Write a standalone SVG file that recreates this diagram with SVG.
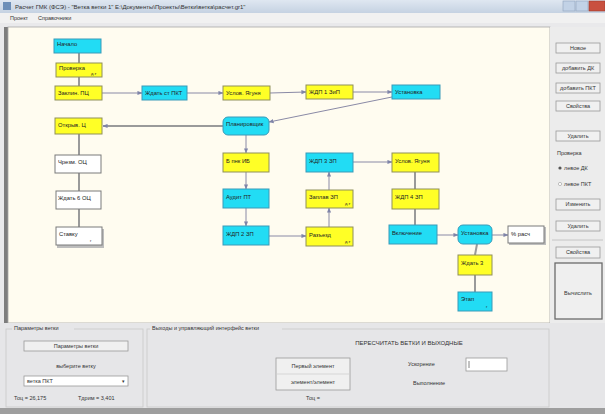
<svg xmlns="http://www.w3.org/2000/svg" width="605" height="414" viewBox="0 0 605 414">
<defs>
<linearGradient id="tb" x1="0" y1="0" x2="0" y2="1"><stop offset="0" stop-color="#dfe7f1"/><stop offset="1" stop-color="#c5d2e2"/></linearGradient>
<marker id="ar" viewBox="0 0 6 6" refX="5.5" refY="3" markerWidth="5" markerHeight="5" markerUnits="userSpaceOnUse" orient="auto"><path d="M0,0.5 L6,3 L0,5.5 z" fill="#7f84a8"/></marker>
<style>
text{font-family:"Liberation Sans",Arial,sans-serif;fill:#222}
.nt{font-size:5.8px}
.sub{font-size:4px}
.y{fill:#ffff26;stroke:#8f8f5a;stroke-width:1}
.c{fill:#22dcf4;stroke:#3a9ab8;stroke-width:1}
.w{fill:#ffffff;stroke:#7a7a7a;stroke-width:1}
.ln{stroke:#8a8aa6;stroke-width:1;fill:none}
.lt{stroke:#9a9a9a;stroke-width:2;fill:none}
.btn{fill:#f0f0f0;stroke:#9a9a9a;stroke-width:0.8}
.ui{font-size:5.5px;fill:#333}
.gb{fill:none;stroke:#c8c8c8;stroke-width:0.8}
</style>
</defs>
<!-- window chrome -->
<rect x="0" y="0" width="605" height="414" fill="#e9e9eb"/>
<rect x="0" y="0" width="605" height="13" fill="url(#tb)"/>
<rect x="3" y="2" width="8" height="8" fill="#6d8fb8"/>
<text x="15" y="9" style="font-size:6px;fill:#333">Расчет ГМК (ФСЭ) - "Ветка ветки 1" E:\Документы\Проекты\Ветки\ветка\расчет.gr1"</text>
<rect x="563" y="1" width="12" height="10" fill="#c2d2e6" stroke="#8ea2bc" stroke-width="0.6"/>
<rect x="576" y="1" width="12" height="10" fill="#c2d2e6" stroke="#8ea2bc" stroke-width="0.6"/>
<rect x="589" y="1" width="16" height="10" fill="#c9503f" stroke="#9a3a2c" stroke-width="0.6"/>
<rect x="0" y="13" width="605" height="10" fill="#f1f1f1"/>
<text x="10" y="20" class="ui">Проект</text>
<text x="38" y="20" class="ui">Справочники</text>
<!-- canvas -->
<rect x="4" y="27" width="4" height="296" fill="#7d7d7d"/>
<rect x="8" y="27" width="542" height="296" fill="#fffcf0" stroke="#a8a8a8" stroke-width="0.8"/>
<!-- connectors -->
<g id="connectors">
<line class="lt" x1="79" y1="53" x2="79" y2="63"/>
<line class="lt" x1="79" y1="77" x2="79" y2="86"/>
<line class="ln" x1="102" y1="93" x2="142" y2="93" marker-end="url(#ar)"/>
<line class="ln" x1="187" y1="93" x2="223" y2="93" marker-end="url(#ar)"/>
<line class="ln" x1="270" y1="93" x2="306" y2="92" marker-end="url(#ar)"/>
<line class="ln" x1="353" y1="92" x2="392" y2="92" marker-end="url(#ar)"/>
<line class="ln" x1="392" y1="97" x2="269" y2="122" marker-end="url(#ar)"/>
<line class="lt" x1="223" y1="126" x2="103" y2="126" marker-end="url(#ar)"/>
<line class="lt" x1="79" y1="134" x2="79" y2="155"/>
<line class="lt" x1="79" y1="173" x2="79" y2="191"/>
<line class="lt" x1="79" y1="209" x2="79" y2="227"/>
<line class="ln" x1="246" y1="135" x2="246" y2="153" marker-end="url(#ar)"/>
<line class="ln" x1="246" y1="172" x2="246" y2="189" marker-end="url(#ar)"/>
<line class="ln" x1="246" y1="208" x2="246" y2="226" marker-end="url(#ar)"/>
<line class="ln" x1="269" y1="236" x2="306" y2="236" marker-end="url(#ar)"/>
<line class="ln" x1="329" y1="227" x2="329" y2="208" marker-end="url(#ar)"/>
<line class="ln" x1="329" y1="190" x2="329" y2="172" marker-end="url(#ar)"/>
<line class="ln" x1="353" y1="162" x2="392" y2="162" marker-end="url(#ar)"/>
<line class="lt" x1="415" y1="172" x2="415" y2="189"/>
<line class="lt" x1="415" y1="209" x2="415" y2="225"/>
<line class="ln" x1="437" y1="235" x2="458" y2="235" marker-end="url(#ar)"/>
<line class="ln" x1="492" y1="235" x2="508" y2="235" marker-end="url(#ar)"/>
<line class="lt" x1="477" y1="244" x2="475" y2="255"/>
<line class="lt" x1="475" y1="275" x2="475" y2="292"/>
</g>
<!-- nodes -->
<g id="n1"><rect class="c" x="54" y="39" width="47" height="14"/><text class="nt" x="57" y="46">Начало</text></g>
<g id="n2"><rect class="y" x="56" y="63" width="46" height="14"/><text class="nt" x="59" y="70">Проверка</text><text class="sub" x="91" y="75">д.т</text></g>
<g id="n3"><rect class="y" x="55" y="86" width="47" height="14"/><text class="nt" x="58" y="95">Заклин.  ПЦ</text></g>
<g id="n4"><rect class="y" x="55" y="118" width="47" height="16"/><text class="nt" x="58" y="127">Открыв.  Ц</text></g>
<g id="n5"><rect class="w" x="55" y="155" width="46" height="18"/><text class="nt" x="58" y="164">Чрезм.  ОЦ</text></g>
<g id="n6"><rect class="w" x="56" y="191" width="45" height="18"/><text class="nt" x="58" y="200">Ждать 6 ОЦ</text></g>
<g id="n7"><rect x="57" y="229" width="47" height="19" fill="#bdbdbd"/><rect class="w" x="56" y="227" width="46" height="18"/><text class="nt" x="59" y="236">Ставку</text><text class="sub" x="90" y="242">г</text></g>
<g id="n8"><rect class="c" x="142" y="86" width="45" height="14"/><text class="nt" x="145" y="95">Ждать ст  ПКТ</text></g>
<g id="n9"><rect class="y" x="223" y="86" width="47" height="14"/><text class="nt" x="226" y="95">Услов.  Ягуня</text></g>
<g id="n10"><rect class="y" x="306" y="85" width="47" height="14" stroke="#55553a"/><text class="nt" x="309" y="94">ЖДП 1  ЗиП</text></g>
<g id="n11"><rect class="c" x="392" y="85" width="48" height="14"/><text class="nt" x="395" y="94">Установка</text></g>
<g id="n12"><rect class="c" x="223" y="117" width="46" height="18" rx="5"/><text class="nt" x="226" y="126">Планировщик</text></g>
<g id="n13"><rect class="y" x="223" y="153" width="46" height="19"/><text class="nt" x="226" y="163">Б пнк  ИБ</text></g>
<g id="n14"><rect class="c" x="223" y="189" width="46" height="19"/><text class="nt" x="226" y="199">Аудит  ПТ</text></g>
<g id="n15"><rect class="c" x="223" y="226" width="46" height="19" stroke="#2a6f8a"/><text class="nt" x="226" y="236">ЖДП 2  ЗП</text></g>
<g id="n16"><rect class="c" x="306" y="153" width="47" height="19" stroke="#2a6f8a"/><text class="nt" x="309" y="163">ЖДП 3  ЗП</text></g>
<g id="n17"><rect class="y" x="306" y="190" width="47" height="18"/><text class="nt" x="309" y="199">Заплав  ЗП</text><text class="sub" x="345" y="205">д.т</text></g>
<g id="n18"><rect class="y" x="306" y="227" width="47" height="19"/><text class="nt" x="309" y="237">Разъезд</text><text class="sub" x="345" y="243">д.т</text></g>
<g id="n19"><rect class="y" x="392" y="153" width="47" height="19"/><text class="nt" x="395" y="163">Услов.  Ягуня</text></g>
<g id="n20"><rect class="y" x="392" y="189" width="47" height="20"/><text class="nt" x="395" y="199">ЖДП 4  ЗП</text></g>
<g id="n21"><rect class="c" x="389" y="225" width="48" height="19"/><text class="nt" x="392" y="235">Включение</text></g>
<g id="n22"><rect class="c" x="458" y="225" width="34" height="19" rx="5"/><text class="nt" x="461" y="235">Установка</text></g>
<g id="n23"><rect class="y" x="458" y="255" width="34" height="20"/><text class="nt" x="461" y="265">Ждать  3</text></g>
<g id="n24"><rect class="c" x="458" y="292" width="34" height="19"/><text class="nt" x="461" y="301">Этап</text><text class="sub" x="486" y="308">г</text></g>
<g id="n25"><rect x="509" y="227" width="37" height="18" fill="#bdbdbd"/><rect class="w" x="508" y="226" width="36" height="17"/><text class="nt" x="511" y="236">% расч</text></g>
<!-- right panel -->
<rect x="550" y="27" width="55" height="296" fill="#ececec"/>
<rect class="btn" x="556" y="43" width="44" height="10"/><text class="ui" x="578" y="50" text-anchor="middle">Новое</text>
<rect class="btn" x="556" y="63" width="44" height="10"/><text class="ui" x="578" y="70" text-anchor="middle">добавить ДК</text>
<rect class="btn" x="556" y="83" width="44" height="10"/><text class="ui" x="578" y="90" text-anchor="middle">добавить ПКТ</text>
<rect class="btn" x="556" y="101" width="44" height="10"/><text class="ui" x="578" y="108" text-anchor="middle">Свойства</text>
<rect class="btn" x="556" y="131" width="44" height="10"/><text class="ui" x="578" y="138" text-anchor="middle">Удалить</text>
<text class="ui" x="557" y="155">Проверка</text>
<circle cx="560" cy="168" r="1.6" fill="#555"/><text class="ui" x="564" y="170">левое ДК</text>
<circle cx="560" cy="184" r="1.6" fill="#fff" stroke="#888" stroke-width="0.5"/><text class="ui" x="564" y="186">левое ПКТ</text>
<rect class="btn" x="556" y="199" width="44" height="11"/><text class="ui" x="578" y="206" text-anchor="middle">Изменить</text>
<rect class="btn" x="556" y="221" width="44" height="10"/><text class="ui" x="578" y="228" text-anchor="middle">Удалить</text>
<line x1="552" y1="240" x2="603" y2="240" stroke="#bdbdbd" stroke-width="0.8"/>
<rect class="btn" x="556" y="247" width="44" height="11"/><text class="ui" x="578" y="254" text-anchor="middle">Свойства</text>
<rect x="555" y="263" width="47" height="56" fill="#efefef" stroke="#6a6a6a" stroke-width="1.3"/><text class="ui" x="578" y="295" text-anchor="middle">Вычислить</text>
<!-- bottom panel -->
<rect x="0" y="323" width="605" height="85" fill="#e6e6e8"/>
<rect x="0" y="408" width="605" height="6" fill="#9e9e9e"/>
<rect class="gb" x="6" y="329" width="137" height="78"/>
<rect x="12" y="325" width="62" height="7" fill="#e6e6e8"/>
<text class="ui" x="14" y="330">Параметры ветки</text>
<rect class="btn" x="24" y="341" width="104" height="10"/><text class="ui" x="76" y="348" text-anchor="middle">Параметры ветки</text>
<text class="ui" x="76" y="368" text-anchor="middle">выберите ветку</text>
<rect x="24" y="376" width="104" height="10" fill="#fff" stroke="#9a9a9a" stroke-width="0.8"/>
<text class="ui" x="27" y="383">ветка ПКТ</text>
<text class="ui" x="122" y="383" style="font-size:4.5px">▾</text>
<text class="ui" x="14" y="400">Тоц = 26,175</text>
<text class="ui" x="78" y="400">Тдрим =  3,401</text>
<rect class="gb" x="147" y="329" width="402" height="78"/>
<rect x="150" y="325" width="132" height="7" fill="#e6e6e8"/>
<text class="ui" x="152" y="330">Выходы и управляющий интерфейс ветки</text>
<text class="ui" x="409" y="345" text-anchor="middle" style="font-size:6px">ПЕРЕСЧИТАТЬ ВЕТКИ И ВЫХОДНЫЕ</text>
<rect class="btn" x="276" y="358" width="74" height="32"/>
<line x1="277" y1="374" x2="349" y2="374" stroke="#c8c8c8" stroke-width="0.6"/>
<text class="ui" x="313" y="368" text-anchor="middle">Первый элемент</text>
<text class="ui" x="313" y="384" text-anchor="middle">элемент/элемент</text>
<text class="ui" x="313" y="400" text-anchor="middle">Тоц =</text>
<text class="ui" x="408" y="366">Ускорение</text>
<rect x="466" y="358" width="41" height="13" fill="#fff" stroke="#9a9a9a" stroke-width="0.8"/>
<line x1="469" y1="361" x2="469" y2="368" stroke="#333" stroke-width="0.6"/>
<text class="ui" x="413" y="385">Выполнение</text>
</svg>
